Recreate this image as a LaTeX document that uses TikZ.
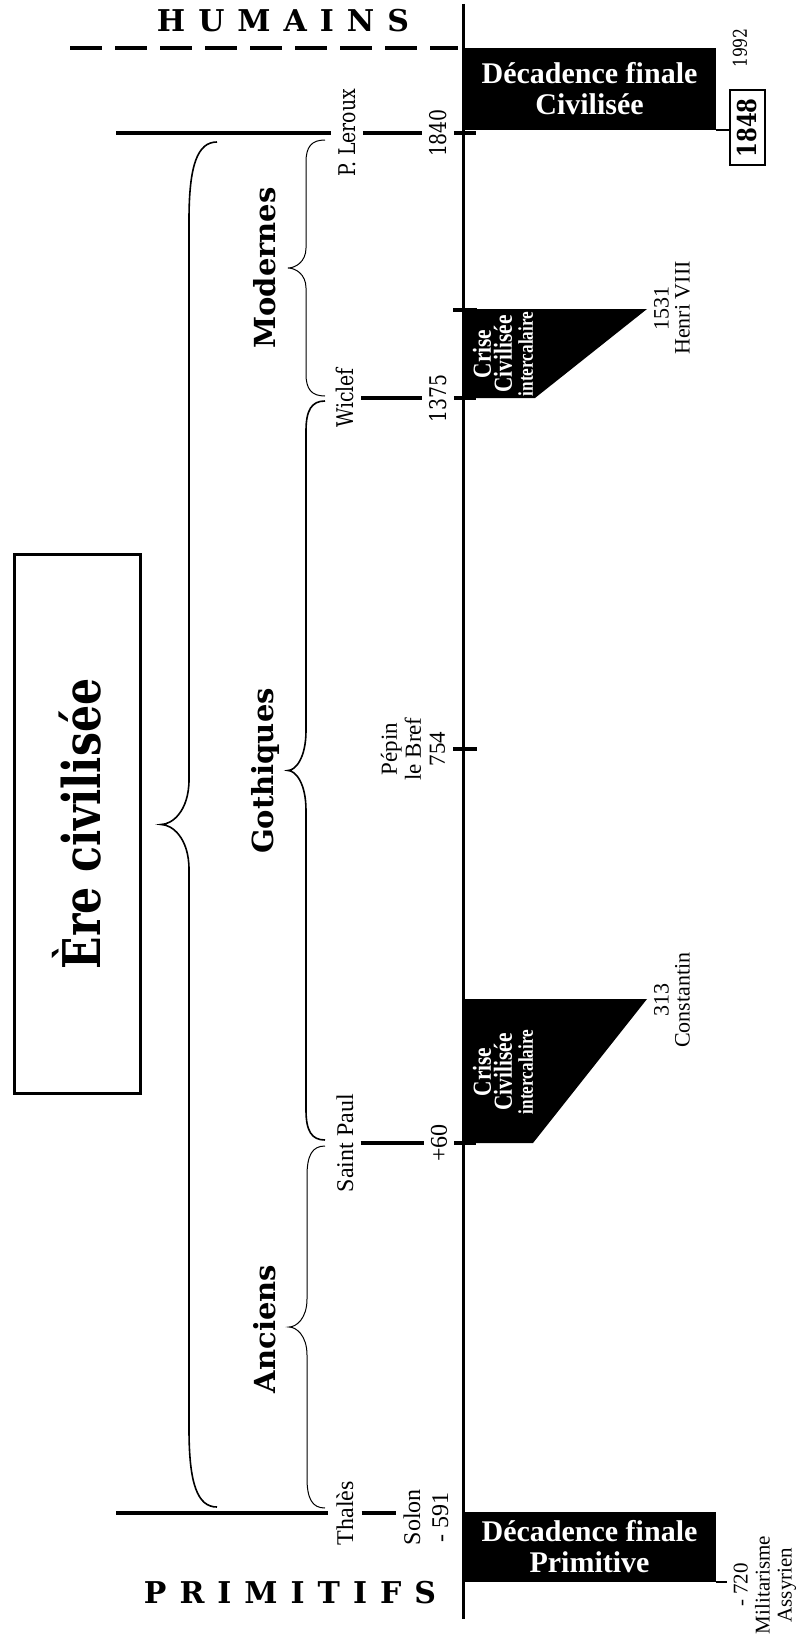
\documentclass[tikz,border=0pt]{standalone}
\usepackage{fontspec}
\setmainfont{Liberation Serif}
\newfontfamily\centfont[FakeStretch=0.82]{DejaVu Serif}
\newfontfamily\heavyfont{DejaVu Serif}
\newfontfamily\condfont[FakeStretch=0.82]{Liberation Serif}
\usetikzlibrary{positioning}
\newcommand\lgap{\hspace{13pt}}

\begin{document}
\begin{tikzpicture}[
    x=1pt, y=-1pt,
    axis/.style={line width=3pt},
    bar/.style={line width=4pt},
    camp/.style={font=\heavyfont\bfseries\fontsize{30}{32}\selectfont},
    period/.style={rotate=90, font=\heavyfont\bfseries\fontsize{29}{30}\selectfont},
    cent/.style={rotate=90, font=\centfont\fontsize{23}{25}\selectfont, inner xsep=2pt, inner ysep=7pt},
    lbl/.style={rotate=90, align=center, font=\fontsize{23}{24}\selectfont, inner xsep=2pt, inner ysep=7pt},
    decad/.style={fill=black, text=white, align=center, inner sep=0pt, minimum width=253pt, font=\bfseries\fontsize{30}{31}\selectfont},
    crise/.style={rotate=90, text=white, align=center, font=\condfont\bfseries\fontsize{26}{21}\selectfont}
]
    \useasboundingbox (0,0) rectangle (799,1640);

    % axe du temps
    \draw[axis] (463,4) -- (463,1619);
    \draw[bar, dash pattern=on 32pt off 13pt] (70,48) -- (458,48);
    \foreach \y in {310,749}
        \draw[bar] (453,\y) -- (477,\y);

    \node[camp] (humains) at (283,21) {H\lgap U\lgap M\lgap A\lgap I\lgap N\lgap S};
    \node[camp] (primitifs) at (290,1593) {P\lgap R\lgap I\lgap M\lgap I\lgap T\lgap I\lgap F\lgap S};

    \node[draw, line width=3pt, rotate=90, minimum width=539pt, minimum height=126pt,
          font=\centfont\bfseries\fontsize{52}{52}\selectfont] (era) at (77,824) {Ère civilisée};

    % accolades
    \foreach \xe/\xs/\xp/\yt/\yb/\L/\M/\w in {
        217/189/161/142/1507/78/45/1.6pt,
        325/306/288/140/396/22/20/1pt,
        325/306/288/401/1140/30/40/1.6pt,
        325/307/289/1146/1508/30/28/1pt}
    {
        \pgfmathsetmacro\ym{(\yt+\yb)/2}
        \draw[line width=\w]
            (\xe,\yt) .. controls ({\xs+0.3*(\xe-\xs)},\yt) and (\xs,{\yt+0.3*\L}) .. (\xs,{\yt+\L})
            -- (\xs,{\ym-\M}) .. controls (\xs,{\ym-0.3*\M}) and ({\xp+0.4*(\xs-\xp)},\ym) .. (\xp,\ym)
            .. controls ({\xp+0.4*(\xs-\xp)},\ym) and (\xs,{\ym+0.3*\M}) .. (\xs,{\ym+\M})
            -- (\xs,{\yb-\L}) .. controls (\xs,{\yb-0.3*\L}) and ({\xs+0.3*(\xe-\xs)},\yb) .. (\xe,\yb);
    }

    \node[period] (modernes) at (265,268) {Modernes};
    \node[period] (gothiques) at (265,771) {Gothiques};
    \node[period] (anciens) at (265,1329) {Anciens};

    % dates et noms
    \node[cent] (leroux) at (347,133) {P. Leroux};
    \node[cent] (n1840) at (438,133) {1840};
    \node[cent] (wiclef) at (345,398) {Wiclef};
    \node[cent] (n1375) at (438,398) {1375};
    \node[cent, font=\centfont\fontsize{19}{20}\selectfont] (n1992) at (740,48) {1992};
    \node[lbl, font=\fontsize{24}{24}\selectfont] (stpaul) at (345,1143) {Saint Paul};
    \node[lbl, font=\fontsize{24}{24}\selectfont] (n60) at (439,1143) {+60};
    \node[lbl] (pepin) at (413,749) {Pépin\\le Bref\\754};
    \node[lbl, font=\fontsize{22}{21}\selectfont] (henri) at (672,308) {1531\\Henri VIII};
    \node[lbl, font=\fontsize{22}{21}\selectfont] (constantin) at (672,1000) {313\\Constantin};
    \node[lbl, font=\fontsize{24}{24}\selectfont, inner ysep=8pt] (thales) at (345,1513) {Thalès};
    \node[lbl, font=\fontsize{24}{28}\selectfont] (solon) at (426,1517) {Solon\\- 591};
    \node[lbl, font=\fontsize{21}{22}\selectfont] (assyr) at (765,1585) {- 720\\Militarisme\\Assyrien};

    \coordinate (w1840) at (116,133);
    \coordinate (e1840) at (476,133);
    \coordinate (e1375) at (476,398);
    \coordinate (e60) at (476,1143);
    \coordinate (wthal) at (116,1513);
    \draw[bar] (w1840) -- (leroux) -- (n1840) -- (e1840);
    \draw[bar] (wiclef) -- (n1375) -- (e1375);
    \draw[bar] (stpaul) -- (n60) -- (e60);
    \draw[bar] (wthal) -- (thales) -- (thales -| solon.north);

    % crises intercalaires
    \fill (463,309) -- (647,309) -- (535,398) -- (463,398) -- cycle;
    \fill (463,999) -- (647,999) -- (533,1143) -- (463,1143) -- cycle;
    \node[crise] (crise1) at (503,354) {Crise\\Civilisée\\{\fontsize{21}{21}\selectfont intercalaire}};
    \node[crise] (crise2) at (503,1072) {Crise\\Civilisée\\{\fontsize{21}{21}\selectfont intercalaire}};

    % decadences
    \node[decad, minimum height=82pt] (deciv) at (589.5,89) {Décadence finale\\Civilisée};
    \node[decad, minimum height=70pt] (decprim) at (589.5,1547) {Décadence finale\\Primitive};
    \node[draw, line width=2pt, rotate=90, minimum width=75pt, minimum height=35pt, inner sep=0pt,
          font=\centfont\bfseries\fontsize{26}{26}\selectfont] (y1848) at (747,128) {1848};
    \draw[line width=2pt] (deciv.south east) -- (deciv.south east -| y1848.north);
    \draw[line width=2pt] (decprim.south east) -- (decprim.south east -| assyr.north);
\end{tikzpicture}
\end{document}
